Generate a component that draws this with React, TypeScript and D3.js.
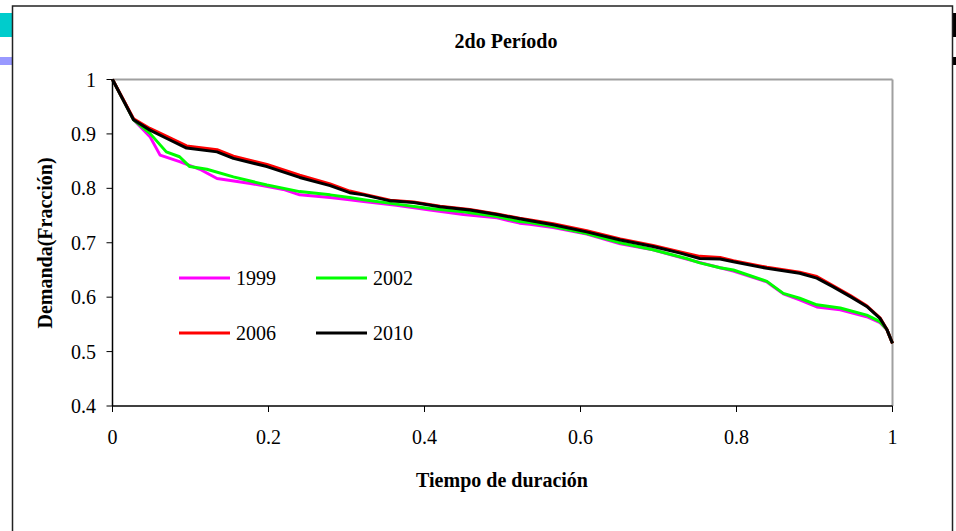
import React from "react";
import * as d3 from "d3";

const xTicks = [0, 0.2, 0.4, 0.6, 0.8, 1];
const yTicks = [0.4, 0.5, 0.6, 0.7, 0.8, 0.9, 1];

const x1999 = [0, 0.027, 0.048, 0.061, 0.086, 0.112, 0.134, 0.177, 0.219, 0.24, 0.279, 0.304, 0.322, 0.364, 0.407, 0.45, 0.493, 0.522, 0.535, 0.565, 0.608, 0.651, 0.693, 0.736, 0.779, 0.796, 0.839, 0.86, 0.881, 0.903, 0.933, 0.967, 0.984, 0.993, 1];
const v1999 = [1, 0.926, 0.895, 0.861, 0.849, 0.835, 0.818, 0.809, 0.798, 0.788, 0.783, 0.779, 0.776, 0.769, 0.76, 0.752, 0.746, 0.736, 0.734, 0.728, 0.716, 0.698, 0.687, 0.67, 0.654, 0.648, 0.628, 0.606, 0.595, 0.582, 0.577, 0.564, 0.553, 0.54, 0.515];

const x2002 = [0, 0.027, 0.048, 0.069, 0.086, 0.099, 0.121, 0.155, 0.198, 0.24, 0.279, 0.304, 0.322, 0.364, 0.407, 0.45, 0.493, 0.522, 0.535, 0.565, 0.608, 0.651, 0.693, 0.736, 0.753, 0.779, 0.796, 0.839, 0.86, 0.881, 0.903, 0.933, 0.967, 0.984, 0.993, 1];
const v2002 = [1, 0.926, 0.901, 0.867, 0.858, 0.84, 0.835, 0.821, 0.806, 0.794, 0.788, 0.783, 0.779, 0.771, 0.763, 0.757, 0.748, 0.739, 0.737, 0.73, 0.717, 0.7, 0.687, 0.671, 0.663, 0.654, 0.65, 0.629, 0.607, 0.598, 0.586, 0.58, 0.567, 0.555, 0.54, 0.515];

const x2006 = [0, 0.027, 0.048, 0.069, 0.095, 0.134, 0.155, 0.198, 0.24, 0.279, 0.304, 0.322, 0.356, 0.386, 0.42, 0.458, 0.493, 0.522, 0.565, 0.608, 0.651, 0.693, 0.728, 0.753, 0.779, 0.796, 0.839, 0.881, 0.903, 0.924, 0.946, 0.967, 0.984, 0.993, 1];
const v2006 = [1, 0.928, 0.91, 0.896, 0.878, 0.871, 0.859, 0.844, 0.824, 0.808, 0.795, 0.789, 0.778, 0.775, 0.767, 0.761, 0.753, 0.745, 0.735, 0.722, 0.707, 0.695, 0.683, 0.675, 0.673, 0.667, 0.655, 0.646, 0.638, 0.621, 0.603, 0.584, 0.562, 0.54, 0.515];

const x2010 = [0, 0.027, 0.048, 0.069, 0.095, 0.134, 0.155, 0.198, 0.24, 0.279, 0.304, 0.322, 0.356, 0.386, 0.42, 0.458, 0.493, 0.522, 0.565, 0.608, 0.651, 0.693, 0.728, 0.753, 0.779, 0.796, 0.839, 0.881, 0.903, 0.924, 0.946, 0.967, 0.984, 0.993, 1];
const v2010 = [1, 0.926, 0.907, 0.892, 0.874, 0.867, 0.855, 0.84, 0.82, 0.805, 0.792, 0.788, 0.777, 0.774, 0.766, 0.76, 0.752, 0.744, 0.733, 0.72, 0.705, 0.693, 0.681, 0.671, 0.67, 0.665, 0.653, 0.644, 0.635, 0.619, 0.601, 0.583, 0.561, 0.54, 0.515];

const seriesNames = ["1999", "2002", "2006", "2010"];
const seriesX = [x1999, x2002, x2006, x2010];
const seriesV = [v1999, v2002, v2006, v2010];
const seriesColors = ["#ff00ff", "#00ff00", "#ff0000", "#000000"];

const FONT = "Liberation Serif, Times New Roman, DejaVu Serif, serif";
const ts: React.CSSProperties = { fontFamily: FONT };

export default function App() {
  const W = 956;
  const H = 531;
  const left = 112.5;
  const right = 892.5;
  const top = 79.5;
  const bottom = 406;
  const xs = d3.scaleLinear().domain([0, 1]).range([left, right]);
  const ys = d3.scaleLinear().domain([0.4, 1]).range([bottom, top]);
  const line = d3
    .line<[number, number]>()
    .x((d) => xs(d[0]))
    .y((d) => ys(d[1]));

  const legendPos = [
    { x: 179, y: 278 },
    { x: 316, y: 278 },
    { x: 179, y: 333 },
    { x: 316, y: 333 },
  ];

  return (
    <svg
      width={W}
      height={H}
      style={{ position: "absolute", left: 0, top: 0, background: "#fff", fontFamily: FONT }}
    >
      <rect x={0} y={0} width={W} height={H} fill="#fff" />
      <rect x={0} y={13} width={12} height={24} fill="#00cccc" />
      <rect x={0} y={57} width={12} height={8} fill="#9999ff" />
      <rect x={953} y={13} width={3} height={24} fill="#000" />
      <rect x={953} y={57} width={3} height={8} fill="#000" />
      <rect x={12.5} y={6} width={940} height={540} fill="#fff" stroke="#222" strokeWidth={1.5} />

      <text x={506} y={48} textAnchor="middle" fontWeight="bold" fontSize={20} style={ts}>
        2do Período
      </text>

      <line x1={left} x2={right} y1={top} y2={top} stroke="#a0a0a0" strokeWidth={2} />
      <line x1={right} x2={right} y1={top} y2={bottom} stroke="#a0a0a0" strokeWidth={2} />

      {seriesNames.map((n, i) => (
        <path
          key={n}
          d={line(seriesX[i].map((xv, j) => [xv, seriesV[i][j]] as [number, number])) || ""}
          fill="none"
          stroke={seriesColors[i]}
          strokeWidth={3}
          strokeLinejoin="round"
        />
      ))}

      <line x1={left} x2={left} y1={top} y2={bottom} stroke="#000" strokeWidth={1.5} />
      <line x1={left} x2={right} y1={bottom} y2={bottom} stroke="#000" strokeWidth={1.5} />

      {yTicks.map((t) => (
        <g key={"y" + t}>
          <line x1={left - 6} x2={left} y1={ys(t)} y2={ys(t)} stroke="#000" strokeWidth={1} />
          <text x={96} y={ys(t)} dy="0.35em" textAnchor="end" fontSize={20} style={ts}>
            {String(t)}
          </text>
        </g>
      ))}
      {xTicks.map((t) => (
        <g key={"x" + t}>
          <line x1={xs(t)} x2={xs(t)} y1={bottom} y2={bottom + 6} stroke="#000" strokeWidth={1} />
          <text x={xs(t)} y={444} textAnchor="middle" fontSize={20} style={ts}>
            {String(t)}
          </text>
        </g>
      ))}

      <text x={502} y={487} textAnchor="middle" fontWeight="bold" fontSize={20} style={ts}>
        Tiempo de duración
      </text>
      <text
        transform={`translate(52,243) rotate(-90)`}
        textAnchor="middle"
        fontWeight="bold"
        fontSize={20}
        style={ts}
      >
        Demanda(Fracción)
      </text>

      {seriesNames.map((n, i) => (
        <g key={"lg" + n}>
          <line
            x1={legendPos[i].x}
            x2={legendPos[i].x + 51}
            y1={legendPos[i].y}
            y2={legendPos[i].y}
            stroke={seriesColors[i]}
            strokeWidth={3}
          />
          <text x={legendPos[i].x + 57} y={legendPos[i].y} dy="0.35em" fontSize={20} style={ts}>
            {n}
          </text>
        </g>
      ))}
    </svg>
  );
}
